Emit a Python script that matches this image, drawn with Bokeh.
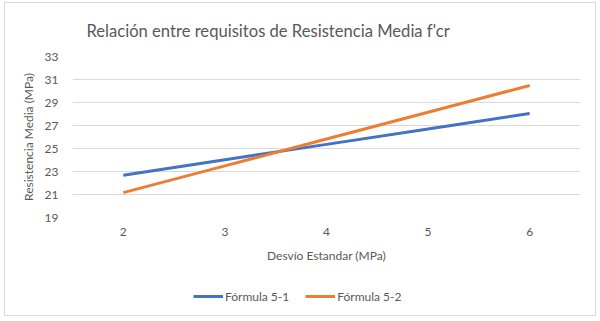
from bokeh.plotting import figure
from bokeh.layouts import column
from bokeh.models import Range1d, FixedTicker, Legend, LegendItem
from bokeh.embed import file_html
from bokeh.resources import INLINE

# Data
desvio = [2, 3, 4, 5, 6]
formula_5_1 = [22.68, 24.02, 25.36, 26.70, 28.04]
formula_5_2 = [21.16, 23.49, 25.82, 28.15, 30.48]
y_ticks = [19, 21, 23, 25, 27, 29, 31, 33]
series_names = ["Fórmula 5-1", "Fórmula 5-2"]
colors = ["#4472C4", "#ED7D31"]

FONT = "Lato"
GREY = "#595959"

p = figure(width=590, height=277, output_backend="svg", toolbar_location=None,
           x_range=Range1d(1.5, 6.5), y_range=Range1d(19, 33),
           min_border_left=67, min_border_right=15, min_border_top=53,
           min_border_bottom=63)

p.title.text = "Relación entre requisitos de Resistencia Media f'cr"
p.title.align = "left"
p.title.offset = 14
p.title.vertical_align = "top"
p.title.text_baseline = "top"
p.title.standoff = 28
p.title.text_font = FONT
p.title.text_font_size = "16.6px"
p.title.text_font_style = "normal"
p.title.text_color = GREY

p.outline_line_color = None
p.xgrid.grid_line_color = None
p.ygrid.grid_line_color = "#d9d9d9"
p.ygrid.grid_line_width = 1

p.xaxis.ticker = FixedTicker(ticks=desvio)
p.yaxis.ticker = FixedTicker(ticks=y_ticks)
for ax in (p.xaxis, p.yaxis):
    ax.axis_line_color = None
    ax.major_tick_line_color = None
    ax.minor_tick_line_color = None
    ax.major_tick_out = 0
    ax.major_tick_in = 0
    ax.minor_tick_out = 0
    ax.minor_tick_in = 0
    ax.major_label_text_font = FONT
    ax.major_label_text_font_size = "12px"
    ax.major_label_text_color = GREY
    ax.axis_label_text_font = FONT
    ax.axis_label_text_font_size = "12px"
    ax.axis_label_text_font_style = "normal"
    ax.axis_label_text_color = GREY

p.xaxis.axis_label = "Desvío Estandar (MPa)"
p.yaxis.axis_label = "Resistencia Media (MPa)"
p.xaxis.major_label_standoff = 10
p.xaxis.axis_label_standoff = 9
p.yaxis.major_label_standoff = 14
p.yaxis.axis_label_standoff = 6

p.line(desvio, formula_5_1, line_color=colors[0], line_width=3)
p.line(desvio, formula_5_2, line_color=colors[1], line_width=3)

# Legend strip below the chart (series drawn out of view, only keys show)
lg = figure(width=590, height=35, output_backend="svg", toolbar_location=None,
            x_range=Range1d(0, 1), y_range=Range1d(0, 1),
            min_border=0, x_axis_type=None, y_axis_type=None)
lg.outline_line_color = None
lg.grid.visible = False
k1 = lg.line(desvio, formula_5_1, line_color=colors[0], line_width=3)
k2 = lg.line(desvio, formula_5_2, line_color=colors[1], line_width=3)
legend = Legend(items=[LegendItem(label=series_names[0], renderers=[k1]),
                       LegendItem(label=series_names[1], renderers=[k2])],
                orientation="horizontal", location=(121, 9),
                label_text_font=FONT, label_text_font_size="12px",
                label_text_color=GREY, border_line_color=None,
                background_fill_alpha=0, glyph_width=30, label_standoff=2,
                spacing=16, padding=4, margin=0)
lg.add_layout(legend)

layout = column(p, lg, spacing=0,
                styles={"border": "1px solid #d9d9d9", "margin": "2px 0 0 4px"})
open("out.html", "w").write(file_html(layout, INLINE))
